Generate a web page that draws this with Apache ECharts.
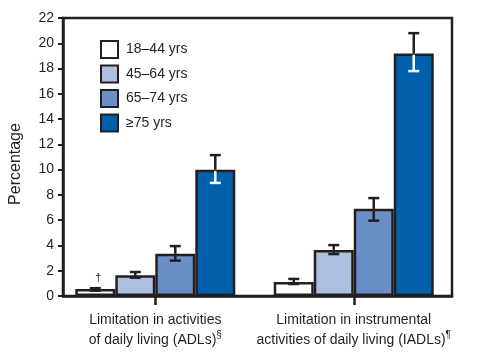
<!DOCTYPE html>
<html>
<head>
<meta charset="utf-8">
<script src="https://cdn.jsdelivr.net/npm/echarts@6/dist/echarts.min.js"></script>
<style>html,body{margin:0;padding:0;background:#fff}#c{width:485px;height:355px}</style>
</head>
<body>
<div id="c"></div>
<script>
var categories = ['{a|Limitation in activities}\n{a|of daily living (ADLs)}{sup|§}', '{a|Limitation in instrumental}\n{a|activities of daily living (IADLs)}{sup|¶}'];
var seriesNames = ['18\u201344 yrs', '45\u201364 yrs', '65\u201374 yrs', '\u226575 yrs'];
var val1844 = [0.55, 1.1];
var val4564 = [1.65, 3.65];
var val6574 = [3.35, 6.9];
var val75 = [10.0, 19.2];
var low1844 = [0.42, 0.95];
var high1844 = [0.62, 1.35];
var low4564 = [1.45, 3.32];
var high4564 = [1.9, 4.03];
var low6574 = [2.8, 5.96];
var high6574 = [3.95, 7.75];
var low75 = [8.95, 17.8];
var high75 = [11.15, 20.8];
var yTicks = [0, 2, 4, 6, 8, 10, 12, 14, 16, 18, 20, 22];
var catPositions = [0, 1];

var colors = ['#ffffff', '#adc0e1', '#6a8fc8', '#0060ab'];
var ink = '#231f20';
var font = "'Liberation Sans', Arial, Helvetica, sans-serif";
var values = [val1844, val4564, val6574, val75];
var lows = [low1844, low4564, low6574, low75];
var highs = [high1844, high4564, high6574, high75];
var BW = 40;

var series = [];
values.forEach(function (v, i) {
  var data = v.map(function (x, j) {
    if (i === 0 && j === 0) {
      return { value: [catPositions[j], x], label: { show: true, formatter: '\u2020', position: 'top', offset: [3, -1], fontSize: 11, color: ink, fontFamily: font } };
    }
    return [catPositions[j], x];
  });
  series.push({
    name: seriesNames[i], type: 'bar', data: data, barWidth: BW, barGap: '0%',
    itemStyle: { color: colors[i], borderColor: ink, borderWidth: 2.5 }, z: 2
  });
});
values.forEach(function (v, i) {
  var data = v.map(function (x, j) { return [catPositions[j], x, lows[i][j], highs[i][j]]; });
  series.push({
    type: 'custom', z: 5, silent: true,
    data: data,
    renderItem: function (params, api) {
      var j = api.value(0);
      var c = api.coord([j, api.value(1)]);
      var lo = api.coord([j, api.value(2)]);
      var hi = api.coord([j, api.value(3)]);
      var x = c[0] + (i - 1.5) * BW;
      var capW = 5.5;
      var lowColor = (i === 3) ? '#ffffff' : ink;
      return {
        type: 'group', children: [
          { type: 'line', shape: { x1: x, y1: hi[1], x2: x, y2: c[1] }, style: { stroke: ink, lineWidth: 2.5 } },
          { type: 'line', shape: { x1: x - capW, y1: hi[1], x2: x + capW, y2: hi[1] }, style: { stroke: ink, lineWidth: 2.5 } },
          { type: 'line', shape: { x1: x, y1: c[1] + (i === 3 ? 1.5 : 0), x2: x, y2: lo[1] }, style: { stroke: lowColor, lineWidth: 2.5 } },
          { type: 'line', shape: { x1: x - capW, y1: lo[1], x2: x + capW, y2: lo[1] }, style: { stroke: lowColor, lineWidth: 2.5 } }
        ]
      };
    }
  });
});

var chart = echarts.init(document.getElementById('c'), null, { renderer: 'canvas' });
chart.setOption({
  animation: false,
  backgroundColor: '#ffffff',
  textStyle: { fontFamily: font },
  grid: { left: 60, right: 33, top: 18, bottom: 59, show: true, borderColor: ink, borderWidth: 2.5, backgroundColor: 'transparent' },
  legend: {
    orient: 'vertical', left: 100, top: 40, padding: 0, icon: 'rect', itemWidth: 17, itemHeight: 17, itemGap: 5.5,
    data: seriesNames,
    itemStyle: { borderColor: ink, borderWidth: 2 },
    textStyle: { fontSize: 14, color: ink, fontFamily: font, padding: [0, 0, 0, 3] }
  },
  xAxis: {
    type: 'value', min: -0.465, max: 1.495,
    axisLine: { show: true, onZero: false, lineStyle: { color: ink, width: 2.5 } },
    axisTick: { show: true, length: 9, customValues: catPositions, lineStyle: { color: ink, width: 2.5 } },
    splitLine: { show: false },
    axisLabel: {
      color: ink, fontSize: 14, lineHeight: 20, margin: 14, fontFamily: font,
      customValues: catPositions,
      hideOverlap: false,
      formatter: function (v) { return categories[Math.round(v)]; },
      rich: {
        a: { fontSize: 14, color: ink, lineHeight: 20, fontFamily: font },
        sup: { fontSize: 10, color: ink, verticalAlign: 'top', lineHeight: 20, padding: [0, 0, 12, 0], fontFamily: font }
      }
    }
  },
  yAxis: {
    type: 'value', min: 0, max: 22, interval: 2,
    name: 'Percentage', nameLocation: 'middle', nameGap: 39, nameRotate: 90,
    nameTextStyle: { fontSize: 16, color: ink, fontFamily: font, padding: [0, 14, 0, 0] },
    axisLine: { show: true, onZero: false, lineStyle: { color: ink, width: 2.5 } },
    axisTick: { show: true, length: 5, lineStyle: { color: ink, width: 2 } },
    axisLabel: { color: ink, fontSize: 14, margin: 9, fontFamily: font, customValues: yTicks },
    splitLine: { show: false }
  },
  series: series
});
</script>
</body>
</html>
